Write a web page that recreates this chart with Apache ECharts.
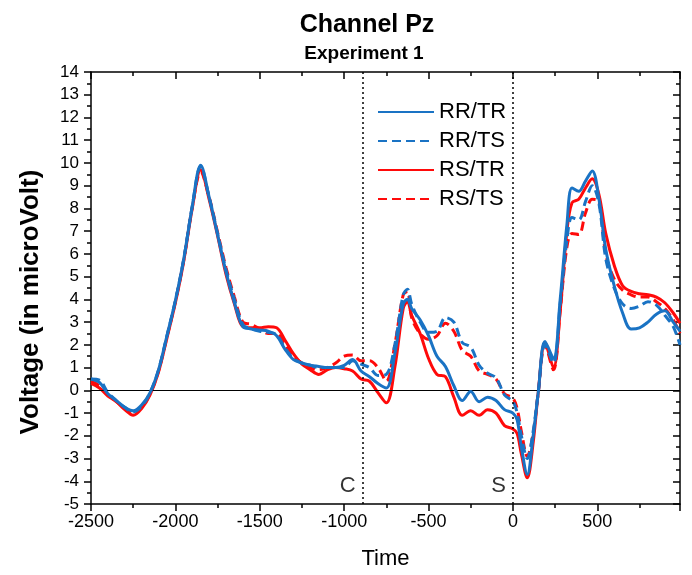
<!DOCTYPE html>
<html>
<head>
<meta charset="utf-8">
<script src="https://cdn.jsdelivr.net/npm/echarts@6/dist/echarts.min.js"></script>
<style>
html,body{margin:0;padding:0;background:#fff;}
#chart{width:692px;height:575px;}
</style>
</head>
<body>
<div id="chart"></div>
<script>
// Time (ms) sample points
var times = [-2500,-2450,-2400,-2350,-2300,-2250,-2200,-2150,-2100,-2050,-2000,-1950,-1900,-1850,-1800,-1750,-1700,-1650,-1600,-1550,-1500,-1450,-1400,-1350,-1300,-1250,-1200,-1150,-1100,-1050,-1000,-950,-900,-850,-800,-750,-700,-650,-625,-600,-550,-500,-450,-400,-350,-300,-250,-200,-150,-100,-50,0,25,50,85,120,150,190,240,280,320,350,390,430,470,510,550,600,650,700,750,800,850,900,950,990];

var rrTR = [0.5,0.35,-0.15,-0.45,-0.75,-0.9,-0.65,-0.1,0.9,2.4,3.95,5.8,8.1,9.9,8.5,6.85,5.2,3.85,2.8,2.7,2.65,2.6,2.4,1.8,1.35,1.2,1.1,1.05,1.0,1.0,1.1,1.35,0.85,0.6,0.3,0.1,1.6,3.8,4.0,3.6,3.1,2.4,1.5,1.05,0.2,-0.45,-0.05,-0.5,-0.3,-0.45,-0.85,-1.0,-1.3,-2.5,-3.7,-2.0,-0.1,2.15,1.4,4.0,7.3,8.9,8.75,9.2,9.65,8.4,6.2,4.6,3.4,2.7,2.75,3.0,3.35,3.5,3.0,2.6];
var rrTS = [0.5,0.45,-0.1,-0.45,-0.75,-0.95,-0.7,-0.1,0.9,2.4,3.95,5.8,8.1,9.85,8.5,6.9,5.3,4.0,2.9,2.7,2.6,2.55,2.45,1.85,1.4,1.2,1.1,1.0,1.0,1.0,1.0,1.3,1.15,1.0,0.65,0.7,2.0,4.2,4.45,3.8,3.0,2.55,2.6,3.2,3.0,2.1,1.9,1.1,0.75,0.55,-0.2,-0.5,-1.0,-2.0,-3.0,-1.8,-0.1,2.0,1.2,3.8,6.6,7.6,7.5,8.3,9.0,8.2,5.8,4.5,3.8,3.6,3.7,3.9,3.75,3.3,2.8,2.0];
var rsTR = [0.3,0.1,-0.25,-0.5,-0.85,-1.1,-0.8,-0.2,0.8,2.3,3.85,5.7,8.0,9.7,8.4,6.8,5.1,3.8,2.8,2.75,2.75,2.8,2.75,2.2,1.6,1.15,0.9,0.7,0.9,1.0,0.95,0.85,0.5,0.4,-0.1,-0.55,1.0,3.6,3.9,3.3,2.5,1.4,0.7,0.6,-0.3,-1.1,-0.9,-1.1,-0.85,-1.0,-1.55,-1.7,-1.9,-2.8,-3.85,-2.3,-0.1,2.1,1.0,3.5,7.0,8.25,8.4,8.9,9.3,8.6,6.9,5.5,4.6,4.35,4.25,4.2,4.1,3.85,3.4,2.95];
var rsTS = [0.4,0.2,-0.2,-0.5,-0.8,-1.0,-0.75,-0.15,0.85,2.35,3.9,5.75,8.05,9.6,8.5,6.95,5.4,4.1,3.0,2.9,2.7,2.5,2.5,2.0,1.5,1.2,1.0,0.9,1.0,1.2,1.5,1.55,1.3,1.3,1.0,0.4,2.0,4.2,4.35,3.2,2.5,2.25,2.4,2.95,2.6,1.75,1.5,0.85,0.7,0.5,-0.15,-0.35,-0.8,-1.8,-2.9,-1.9,-0.1,2.0,0.9,3.5,6.3,6.9,6.85,7.8,8.4,8.3,6.0,4.9,4.4,4.2,4.1,4.1,3.9,3.6,3.1,2.5];

var seriesNames = ['RR/TR','RR/TS','RS/TR','RS/TS'];
var markerTimes = [-890, 0];
var markerNames = ['C', 'S'];

var BLUE = '#1a73c4';
var RED = '#ff0a0a';
var FONT = 'Liberation Sans';

function pairs(v){ return times.map(function(t,i){ return [t, v[i]]; }); }
function mk(name, vals, color, dashed, z){
  return {
    name: name, type: 'line', data: pairs(vals), smooth: 0.35, symbol: 'none', z: z,
    lineStyle: {color: color, width: 3, type: dashed ? [9,5] : 'solid'},
    itemStyle: {color: color}, emphasis: {disabled: true}, animation: false
  };
}
function plain(v){ return String(v); }

var chart = echarts.init(document.getElementById('chart'), null, {renderer: 'canvas'});
var option = {
  animation: false,
  backgroundColor: '#fff',
  title: [
    {text: 'Channel Pz', left: 362, top: 8, textAlign: 'center',
     textStyle: {fontFamily: FONT, fontSize: 25, fontWeight: 'bold', color: '#000'}},
    {text: 'Experiment 1', left: 359, top: 39, textAlign: 'center',
     textStyle: {fontFamily: FONT, fontSize: 19, fontWeight: 'bold', color: '#000'}}
  ],
  legend: {
    data: seriesNames, orient: 'vertical', left: 372, top: 96,
    itemWidth: 56, itemHeight: 14, itemGap: 7,
    itemStyle: {color: 'rgba(0,0,0,0)', borderColor: 'rgba(0,0,0,0)', borderWidth: 0, opacity: 0},
    textStyle: {fontFamily: FONT, fontSize: 22, color: '#000'}
  },
  grid: {left: 91, right: 12, top: 72, bottom: 70},
  xAxis: [
    {type: 'value', min: -2500, max: 990, interval: 500, position: 'bottom',
     name: 'Time', nameLocation: 'middle', nameGap: 44,
     nameTextStyle: {fontFamily: FONT, fontSize: 22, color: '#000'},
     axisLine: {show: true, onZero: false, lineStyle: {color: '#000', width: 1.5}},
     axisTick: {show: true, inside: false, length: 7, lineStyle: {color: '#000', width: 1.5}},
     minorTick: {show: true, splitNumber: 2, length: 4, lineStyle: {color: '#000', width: 1.5}},
     axisLabel: {showMaxLabel: false, formatter: plain, fontFamily: FONT, fontSize: 18, color: '#000', margin: 9},
     splitLine: {show: false}},
    {type: 'value', min: -2500, max: 990, interval: 500, position: 'top',
     axisLine: {show: true, onZero: false, lineStyle: {color: '#000', width: 1.5}},
     axisTick: {show: true, inside: true, length: 7, lineStyle: {color: '#000', width: 1.5}},
     minorTick: {show: true, splitNumber: 2, length: 4, lineStyle: {color: '#000', width: 1.5}},
     axisLabel: {show: false}, splitLine: {show: false}}
  ],
  yAxis: [
    {type: 'value', min: -5, max: 14, interval: 1, position: 'left',
     name: 'Voltage (in microVolt)', nameLocation: 'middle', nameGap: 47,
     nameTextStyle: {fontFamily: FONT, fontSize: 26, fontWeight: 'bold', color: '#000', padding: [0, 28, 0, 0]},
     axisLine: {show: true, onZero: false, lineStyle: {color: '#000', width: 1.5}},
     axisTick: {show: true, inside: false, length: 7, lineStyle: {color: '#000', width: 1.5}},
     minorTick: {show: true, splitNumber: 2, length: 4, lineStyle: {color: '#000', width: 1.5}},
     axisLabel: {formatter: plain, fontFamily: FONT, fontSize: 17, color: '#000', margin: 12},
     splitLine: {show: false}},
    {type: 'value', min: -5, max: 14, interval: 1, position: 'right',
     axisLine: {show: true, onZero: false, lineStyle: {color: '#000', width: 1.5}},
     axisTick: {show: true, inside: true, length: 7, lineStyle: {color: '#000', width: 1.5}},
     minorTick: {show: true, splitNumber: 2, length: 4, lineStyle: {color: '#000', width: 1.5}},
     axisLabel: {show: false}, splitLine: {show: false}}
  ],
  series: [
    {
      name: 'markers', type: 'scatter', symbolSize: 0, z: 1, silent: true,
      data: markerTimes.map(function(t, i){ return {value: [t, -4.2], name: markerNames[i]}; }),
      label: {show: true, position: 'left', distance: 7, formatter: '{b}',
              fontFamily: FONT, fontSize: 22, color: '#000'},
      markLine: {
        silent: true, symbol: ['none','none'], label: {show: false},
        lineStyle: {color: '#000', type: [2,3], width: 1.5},
        data: [
          {yAxis: 0, lineStyle: {type: 'solid', color: '#000', width: 1.2}},
          {xAxis: markerTimes[0]},
          {xAxis: markerTimes[1]}
        ]
      }
    },
    mk(seriesNames[3], rsTS, RED, true, 2),
    mk(seriesNames[2], rsTR, RED, false, 3),
    mk(seriesNames[1], rrTS, BLUE, true, 4),
    mk(seriesNames[0], rrTR, BLUE, false, 5)
  ]
};
chart.setOption(option);
</script>
</body>
</html>
